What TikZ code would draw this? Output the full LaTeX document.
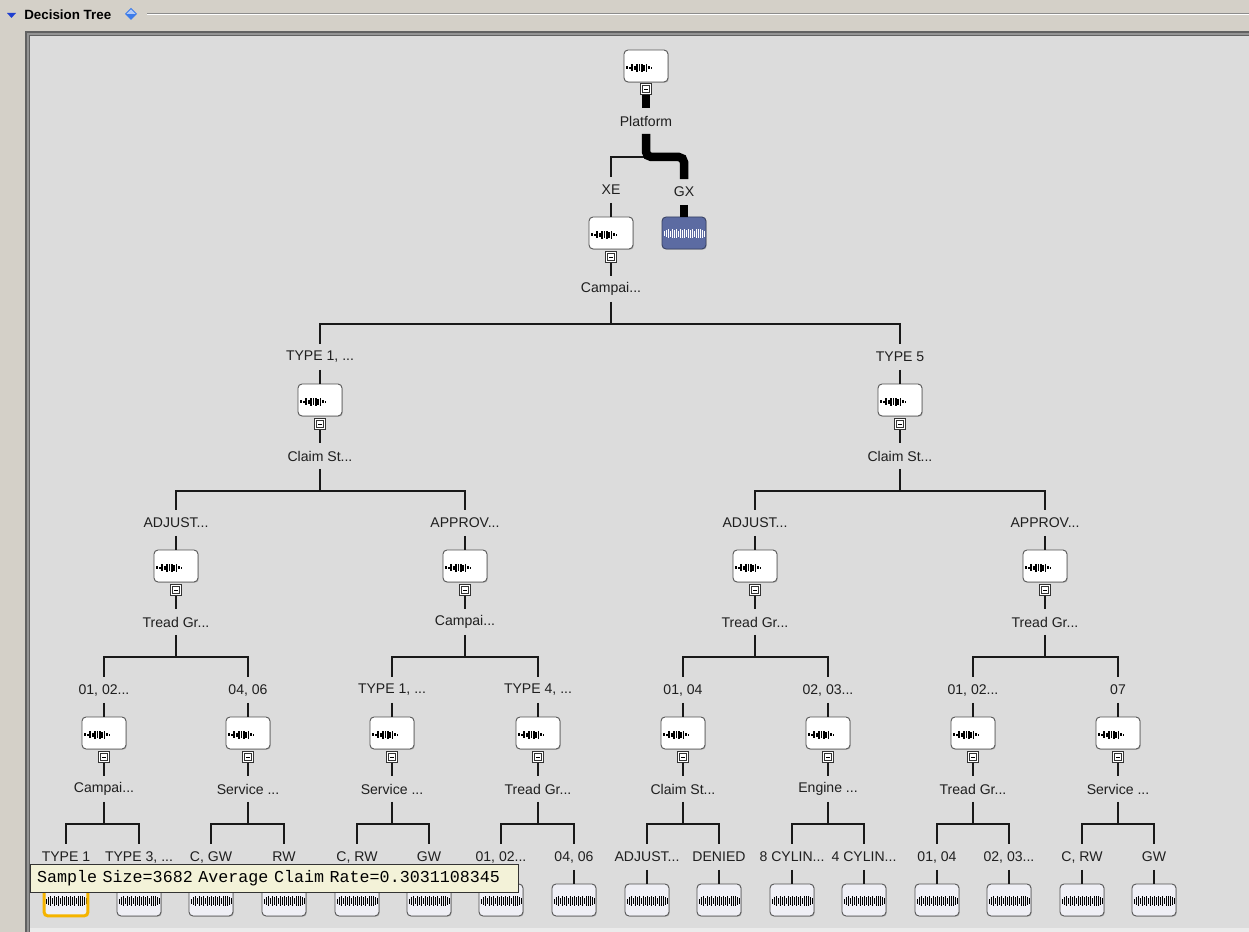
\documentclass[tikz,border=0pt]{standalone}
\usepackage{fontspec}
\setmainfont{Liberation Sans}
\newfontfamily\tipfont{Liberation Mono}
\usetikzlibrary{shadows}

\definecolor{chrome}{HTML}{D4D0C8}
\definecolor{panel}{HTML}{DCDCDC}
\definecolor{boxedge}{HTML}{505050}
\definecolor{leaffill}{HTML}{EFEFF5}
\definecolor{gxblue}{HTML}{5C6BA2}
\definecolor{tipfill}{HTML}{F3F2D8}
\definecolor{picked}{HTML}{F5B400}
\definecolor{hdrblue}{HTML}{1F3FD0}
\definecolor{gemblue}{HTML}{3C7BEA}

% little bar chart inside a box: offsets/heights in px, start, drop, colour
\newcommand{\chartbars}[4]{%
  \foreach \bx/\bh in {#1}
    \fill[#4, sharp corners] ([xshift={(#2+\bx)*0.02cm}, yshift={-(#3+\bh/2)*0.02cm}]path picture bounding box.west) rectangle ++(0.032cm, \bh*0.02cm);}

\tikzset{
  lbl/.style={font=\fontsize{8}{9}\selectfont, text=black!88, inner sep=0, minimum height=0.5cm},
  basebox/.style={draw=boxedge, rounded corners=2.3pt, minimum width=0.88cm, minimum height=0.64cm, inner sep=0,
    line width=0.5pt, drop shadow={shadow xshift=0.5pt, shadow yshift=-0.5pt, fill=black!40}},
  split/.style={basebox, fill=white,
    path picture={\chartbars{0/3,3/2,5/7,8/4,10/8,12.5/7,15/8,17/6,19.5/8,22/3,24.5/2}{2}{2}{black}}},
  leaf/.style={basebox, fill=leaffill,
    path picture={\chartbars{0/5,2/7,4/9,6/6,8/9,10/8,12/9,14/6,16/9,18/8,20/9,22/7,24/9,26/8,28/9,30/6,32/9,34/9,36/9,38/8,40/6}{1.5}{1}{black}}},
  gxbox/.style={basebox, fill=gxblue, draw=gxblue!60!black,
    path picture={\chartbars{0/5,2/7,4/9,6/6,8/9,10/8,12/9,14/6,16/9,18/8,20/9,22/7,24/9,26/8,28/9,30/6,32/9,34/9,36/9,38/8,40/6}{1.5}{1}{white}}},
  toggle/.style={draw=black!80, line width=0.5pt, fill=white, minimum size=0.22cm, inner sep=0,
    path picture={\draw[black!80, line width=0.45pt] ([shift={(-0.07cm,-0.07cm)}]path picture bounding box.center) rectangle ([shift={(0.07cm,0.07cm)}]path picture bounding box.center);
      \draw[black, line width=0.55pt] ([xshift=-0.04cm]path picture bounding box.center) -- ([xshift=0.04cm]path picture bounding box.center);}},
  link/.style={draw=black!90, line width=0.6pt},
  hot/.style={draw=black, line width=0.17cm},
  tip/.style={draw=black!80, fill=tipfill, line width=0.6pt, font=\tipfont\fontsize{9.5}{11}\selectfont,
    text width=9.5cm, inner xsep=0.13cm, inner ysep=0, minimum height=0.56cm, align=left}
}

\begin{document}
\begin{tikzpicture}[x=0.02cm, y=-0.02cm]
	\useasboundingbox (0,0) rectangle (1249,932);
	% window chrome and the sunken panel
	\fill[chrome] (0,0) rectangle (1249,932);
	\fill[panel] (25,31) rectangle (1249,932);
	\fill[black!8] (30,928) rectangle (1249,932);
	\draw[black!62, line width=0.04cm] (26,932) |- (1249,32);
	\draw[black!42, line width=0.04cm] (28,932) |- (1249,34);
	\draw[black!62, line width=0.02cm] (29.5,932) |- (1249,35.5);
	% title bar
	\fill[hdrblue] (7,13) -- (16,13) -- (11.5,18) -- cycle;
	\node[anchor=west, inner sep=0, font=\bfseries\fontsize{7.6}{9}\selectfont] (title) at (24,15) {Decision Tree};
	\fill[gemblue] (131,8) -- (137,14) -- (131,20) -- (125,14) -- cycle;
	\fill[white!60!gemblue] (131,9.5) -- (135.5,14) -- (131,14) -- (126.5,14) -- cycle;
	\draw[black!45, line width=0.02cm] (147,14) -- (1249,14);
	\draw[white, line width=0.02cm] (147,15) -- (1249,15);

	% root split
	\node[split] (r) at (646,66) {};
	\node[toggle] (t-r) at (646,89) {};
	\node[lbl] (s-r) at (646,121) {Platform};
	\coordinate (k-r) at (646,157);
	\node[lbl] (e-g) at (684,192) {GX};
	\node[gxbox] (g) at (684,233) {};

	% inner splits: name/x/label y/parent/branch/next split
	\foreach \nm/\px/\py/\up/\elbl/\slbl in {
		x/611/190/r/XE/{Campai...},
		a/320/357/x/{TYPE 1, ...}/{Claim St...},
		b/900/357/x/{TYPE 5}/{Claim St...},
		aa/176/523/a/{ADJUST...}/{Tread Gr...},
		ab/465/523/a/{APPROV...}/{Campai...},
		ba/755/523/b/{ADJUST...}/{Tread Gr...},
		bb/1045/523/b/{APPROV...}/{Tread Gr...},
		aa1/104/690/aa/{01, 02...}/{Campai...},
		aa2/248/690/aa/{04, 06}/{Service ...},
		ab1/392/690/ab/{TYPE 1, ...}/{Service ...},
		ab2/538/690/ab/{TYPE 4, ...}/{Tread Gr...},
		ba1/683/690/ba/{01, 04}/{Claim St...},
		ba2/828/690/ba/{02, 03...}/{Engine ...},
		bb1/973/690/bb/{01, 02...}/{Tread Gr...},
		bb2/1118/690/bb/{07}/{Service ...}} {
		\node[lbl] (e-\nm) at (\px,\py) {\elbl};
		\node[split] (\nm) at (\px,\py+43) {};
		\node[toggle] (t-\nm) at (\px,\py+67) {};
		\node[lbl] (s-\nm) at (\px,\py+99) {\slbl};
		\coordinate (k-\nm) at (\px,\py+134);
		\draw[link] (k-\up) -| (e-\nm);
		\draw[link] (e-\nm) -- (\nm);
		\draw[link] (t-\nm) -- (s-\nm);
		\draw[link] (s-\nm) -- (k-\nm);
	}

	% leaves
	\node[lbl] (e-aa1a) at (66,857) {TYPE 1};
	\node[leaf, draw=picked, line width=0.06cm] (aa1a) at (66,900) {};
	\draw[link] (k-aa1) -| (e-aa1a);
	\draw[link] (e-aa1a) -- (aa1a);
	\foreach \nm/\px/\up/\elbl in {
		aa1b/139/aa1/{TYPE 3, ...}, aa2a/211/aa2/{C, GW}, aa2b/284/aa2/{RW},
		ab1a/357/ab1/{C, RW}, ab1b/429/ab1/{GW}, ab2a/501/ab2/{01, 02...}, ab2b/574/ab2/{04, 06},
		ba1a/647/ba1/{ADJUST...}, ba1b/719/ba1/{DENIED}, ba2a/792/ba2/{8 CYLIN...}, ba2b/864/ba2/{4 CYLIN...},
		bb1a/937/bb1/{01, 04}, bb1b/1009/bb1/{02, 03...}, bb2a/1082/bb2/{C, RW}, bb2b/1154/bb2/{GW}} {
		\node[lbl] (e-\nm) at (\px,857) {\elbl};
		\node[leaf] (\nm) at (\px,900) {};
		\draw[link] (k-\up) -| (e-\nm);
		\draw[link] (e-\nm) -- (\nm);
	}

	% highlighted path down to GX
	\draw[link] (k-r) -| (e-x);
	\draw[hot] (t-r) -- (s-r);
	\draw[hot, rounded corners=3pt] (s-r) -- (k-r) -| (e-g);
	\draw[hot] (e-g) -- (g);

	% tooltip over the first leaf
	\node[tip, anchor=north west] (tip) at (30,864) {Sample Size=3682 Average Claim Rate=0.3031108345};
\end{tikzpicture}
\end{document}
